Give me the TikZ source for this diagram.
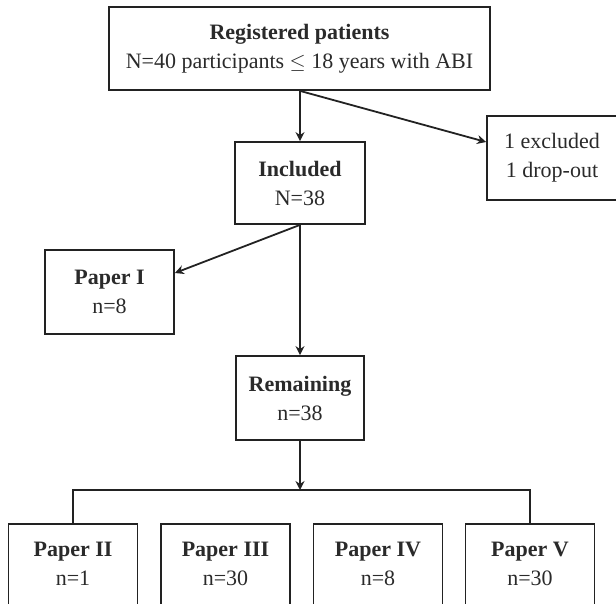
\documentclass[tikz,border=0pt]{standalone}
\usepackage{fontspec}
\setmainfont{Liberation Serif}
\usetikzlibrary{arrows.meta,calc}
\definecolor{ink}{HTML}{222222}
\definecolor{txtc}{HTML}{2A2A2A}
\begin{document}
\begin{tikzpicture}[x=1pt,y=-1pt,
  box/.style={draw=ink,line width=1.8pt,rectangle,inner sep=0pt,align=center,text=txtc,
    font=\fontsize{22}{29}\selectfont},
  txt/.style={inner sep=0pt,align=center,text=txtc,font=\fontsize{22}{29}\selectfont},
  arr/.style={draw=ink,line width=1.8pt,-{Stealth[length=9pt,width=9pt]}},
  ln/.style={draw=ink,line width=1.8pt}]
\useasboundingbox (0,0) rectangle (616,604);
\clip (0,0) rectangle (616,604);
\node[box,minimum width=381,minimum height=83] (top) at (299.5,48.5)
  {\textbf{Registered patients}\\N=40 participants $\leq$ 18 years with ABI};
\node[box,minimum width=130,minimum height=82] (incl) at (300,183)
  {\textbf{Included}\\N=38};
\node[box,minimum width=130,minimum height=84] (excl) at (552,158)
  {1 excluded\\1 drop-out};
\node[box,minimum width=129,minimum height=84] (p1) at (109.5,292)
  {\textbf{Paper I}\\n=8};
\node[box,minimum width=128,minimum height=84] (rem) at (300,398)
  {\textbf{Remaining}\\n=38};
\foreach \n/\x/\t/\v in {p2/73/II/1,p3/225.5/III/30,p4/378/IV/8,p5/530/V/30}{
  \node[box,minimum width=129,minimum height=100,anchor=north] (\n) at (\x,523) {};
  \node[txt,anchor=base] (\n t) at ([yshift=-33pt]\n.north) {\textbf{Paper \t}};
  \node[txt,anchor=base] (\n n) at ([yshift=-29pt]\n t.base) {n=\v};
}
\coordinate (bar) at (rem.south |- 0,490);
\draw[arr] (incl.north |- top.south) -- (incl.north);
\draw[arr] (incl.north |- top.south) -- ([yshift=16pt]excl.west);
\draw[arr] (incl.south) -- ([yshift=19pt]p1.east);
\draw[arr] (incl.south) -- (incl.south |- rem.north);
\draw[arr] (rem.south) -- (bar);
\draw[ln] (p2.north) -- (p2.north |- bar) -- (p5.north |- bar) -- (p5.north);
\end{tikzpicture}
\end{document}
